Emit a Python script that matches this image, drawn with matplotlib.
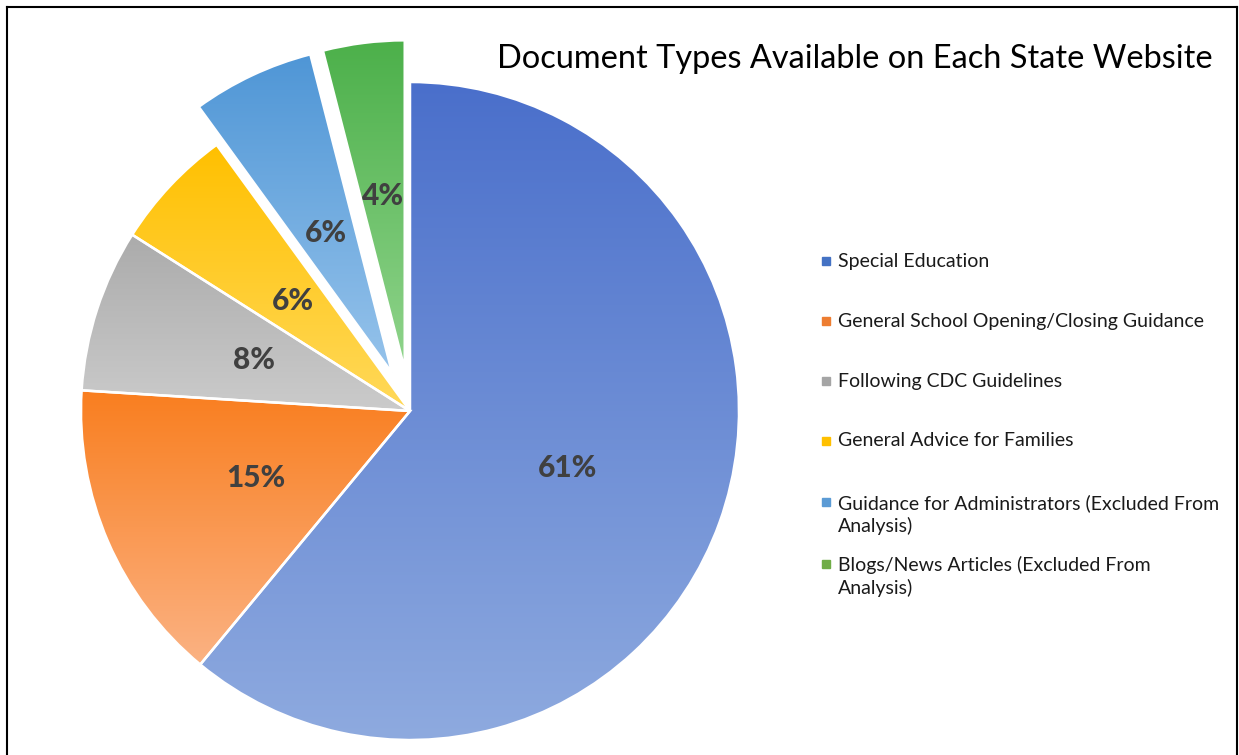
import numpy as np
import matplotlib
matplotlib.use("Agg")
import matplotlib.pyplot as plt
from matplotlib.colors import to_rgb
from matplotlib.lines import Line2D

# ---- data ----
categories = [
    "Special Education",
    "General School Opening/Closing Guidance",
    "Following CDC Guidelines",
    "General Advice for Families",
    "Guidance for Administrators (Excluded From\nAnalysis)",
    "Blogs/News Articles (Excluded From\nAnalysis)",
]
values = [61, 15, 8, 6, 6, 4]
pct_labels = ["61%", "15%", "8%", "6%", "6%", "4%"]
title = "Document Types Available on Each State Website"

# ---- styles ----
top_colors = ["#4A6FCB", "#F97E1F", "#ABABAB", "#FFC000", "#4F96D6", "#4CB04A"]
bot_colors = ["#8EAADF", "#FBB283", "#CBCBCB", "#FFD95A", "#96C3EB", "#90D48C"]
legend_colors = ["#4472C4", "#ED7D31", "#A5A5A5", "#FFC000", "#5B9BD5", "#70AD47"]
explode = [0, 0, 0, 0, 42, 42]
pct_dist = [0.51, 0.51, 0.50, 0.49, 0.47, 0.53]

W, H = 1239, 755
fig = plt.figure(figsize=(W / 100, H / 100), dpi=100)
ax = fig.add_axes([0, 0, 1, 1])
ax.set_axis_off()

cx, cy, R = 410, H - 411, 329
wedges, _ = ax.pie(values, radius=R, center=(cx, cy), startangle=90,
                   counterclock=False, explode=explode,
                   wedgeprops=dict(edgecolor="white", linewidth=1.8))

for i, w in enumerate(wedges):
    ext = w.get_path().get_extents()
    n = 256
    t = np.linspace(0, 1, n)[:, None]
    c0 = np.array(to_rgb(bot_colors[i]))
    c1 = np.array(to_rgb(top_colors[i]))
    grad = (c0[None, :] * (1 - t) + c1[None, :] * t)[:, None, :]
    im = ax.imshow(grad, extent=[ext.x0, ext.x1, ext.y0, ext.y1],
                   origin="lower", aspect="auto", interpolation="bilinear",
                   zorder=1)
    im.set_clip_path(w)
    w.set_facecolor("none")
    w.set_zorder(2)
    # label
    th = np.deg2rad((w.theta1 + w.theta2) / 2)
    x0, y0 = w.center
    ax.text(x0 + pct_dist[i] * R * np.cos(th), y0 + pct_dist[i] * R * np.sin(th),
            pct_labels[i], ha="center", va="center", fontsize=21.5,
            fontfamily="Lato", fontweight="black", color="#404040", zorder=3)

ax.set_xlim(0, W)
ax.set_ylim(0, H)
ax.set_aspect("equal")

# title
fig.text(855 / W, 1 - 59 / H, title, ha="center", va="center",
         fontsize=23.4, fontfamily="Lato", color="black")

# legend
leg_y = [261, 321, 381, 441, 502, 564]
for i, cat in enumerate(categories):
    y = leg_y[i]
    ax.add_patch(plt.Rectangle((822, H - y - 4), 8, 8, color=legend_colors[i],
                               zorder=3))
    nl = cat.count("\n")
    ax.text(838, H - y - nl * 12.5, cat, ha="left", va="center",
            fontsize=14, fontfamily="Lato", color="#1a1a1a",
            linespacing=1.3, zorder=3)

# frame
for xs, ys in [((7, 7), (0, H - 7)), ((7, W - 2), (H - 7, H - 7)),
               ((W - 2, W - 2), (0, H - 7))]:
    ax.add_line(Line2D(xs, ys, color="black", linewidth=1.5, zorder=4))

fig.savefig("out.png", dpi=100)
